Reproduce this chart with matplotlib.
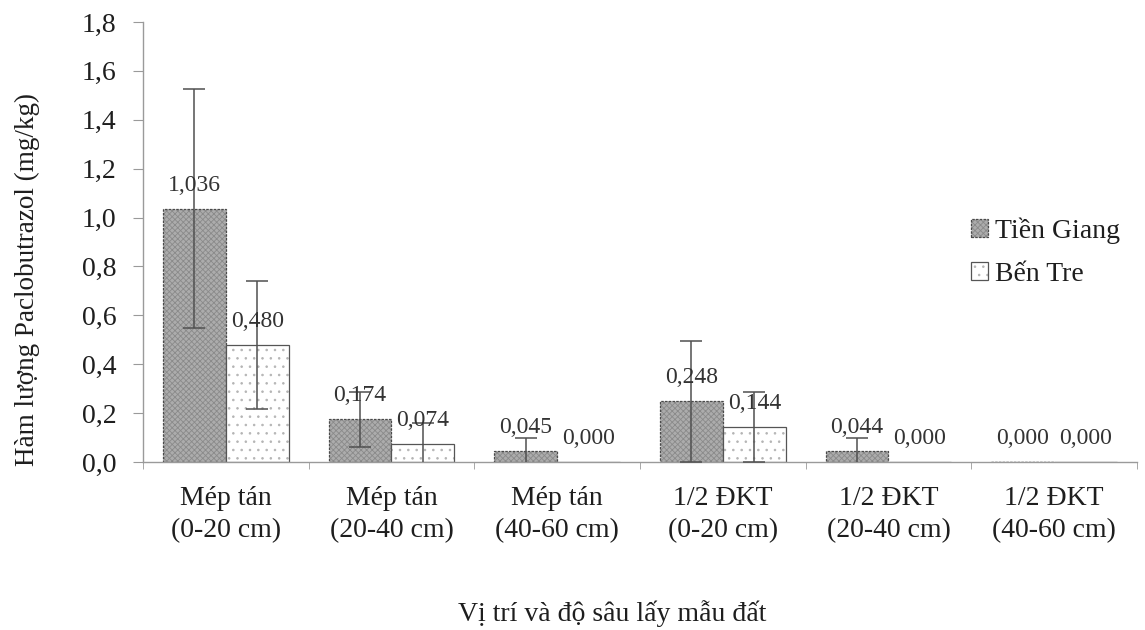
import matplotlib
matplotlib.use("Agg")
import matplotlib.pyplot as plt
import matplotlib.colors as mcolors
import numpy as np

plt.rcParams['font.family'] = ['Liberation Serif', 'DejaVu Serif']
plt.rcParams['hatch.linewidth'] = 0.6

categories = ["Mép tán\n(0-20 cm)", "Mép tán\n(20-40 cm)", "Mép tán\n(40-60 cm)",
              "1/2 ĐKT\n(0-20 cm)", "1/2 ĐKT\n(20-40 cm)", "1/2 ĐKT\n(40-60 cm)"]
tien_giang = [1.036, 0.174, 0.045, 0.248, 0.044, 0.000]
ben_tre = [0.480, 0.074, 0.000, 0.144, 0.000, 0.000]
tien_giang_err = [0.488, 0.112, 0.053, 0.247, 0.054, 0.0]
ben_tre_err = [0.262, 0.086, 0.0, 0.142, 0.0, 0.0]
yticks = [0.0, 0.2, 0.4, 0.6, 0.8, 1.0, 1.2, 1.4, 1.6, 1.8]

W, H = 1145, 630
fig = plt.figure(figsize=(W / 100, H / 100), dpi=100)
ax = fig.add_axes([143 / W, 1 - 462 / H, 994 / W, 440 / H])

x = np.arange(len(categories))
w = 0.38
axis_gray = '#9a9a9a'
text_col = '#1e1e1e'
fs = 20

b1 = ax.bar(x - w / 2, tien_giang, w, color='#acacac', edgecolor='#4a4a4a',
            hatch='xxxxxx', linewidth=0.9, linestyle=(0, (2, 1)),
            label='Tiền Giang', zorder=2)
b2 = ax.bar(x + w / 2, ben_tre, w, color='white', edgecolor='#555555',
            hatch='..', linewidth=0.9, label='Bến Tre', zorder=2)
for r in b1:
    r._hatch_color = mcolors.to_rgba('#8a8a8a')
for r in b2:
    r._hatch_color = mcolors.to_rgba('#b4b4b4')

for xs, vals, errs in ((x - w / 2, tien_giang, tien_giang_err),
                       (x + w / 2, ben_tre, ben_tre_err)):
    for xi, v, e in zip(xs, vals, errs):
        if e > 0:
            ax.errorbar(xi, v, yerr=e, fmt='none', ecolor='#505050',
                        elinewidth=1.1, capsize=8, capthick=1.1, zorder=3)

for xs, vals in ((x - w / 2, tien_giang), (x + w / 2, ben_tre)):
    for xi, v in zip(xs, vals):
        ax.annotate(f"{v:.3f}".replace('.', ','), (xi, v), xytext=(0, 17),
                    textcoords='offset points', ha='center', va='center',
                    fontsize=17, color='#333333', zorder=4)

ax.set_xlim(-0.5, len(categories) - 0.5)
ax.set_ylim(0, 1.8)
ax.set_yticks(yticks)
ax.set_yticklabels([f"{t:.1f}".replace('.', ',') for t in yticks],
                   fontsize=fs, color=text_col)
ax.set_xticks(x)
ax.set_xticklabels(categories, fontsize=fs, color=text_col, linespacing=1.4)
ax.set_xticks(np.arange(len(categories) + 1) - 0.5, minor=True)
ax.tick_params(axis='x', which='major', length=0, pad=17)
ax.tick_params(axis='x', which='minor', length=5, color=axis_gray)
ax.tick_params(axis='y', length=7, color=axis_gray, pad=12)

for s in ('top', 'right'):
    ax.spines[s].set_visible(False)
for s in ('left', 'bottom'):
    ax.spines[s].set_color(axis_gray)
    ax.spines[s].set_linewidth(1.0)

fig.text(27 / W, 1 - 279 / H, "Hàm lượng Paclobutrazol (mg/kg)", rotation=90,
         ha='center', va='center', fontsize=19.5, color=text_col)
fig.text(0.5 * (447 + 778) / W, 1 - 614 / H, "Vị trí và độ sâu lấy mẫu đất",
         ha='center', va='center', fontsize=fs, color=text_col)

ax.legend(loc='center left', bbox_to_anchor=(971 / W, 1 - 252 / H),
          bbox_transform=fig.transFigure, frameon=False, borderpad=0,
          borderaxespad=0, fontsize=fs, handlelength=0.6, handleheight=0.6,
          handletextpad=0.25, labelspacing=0.65, labelcolor=text_col)

fig.savefig("out.png", dpi=100)
